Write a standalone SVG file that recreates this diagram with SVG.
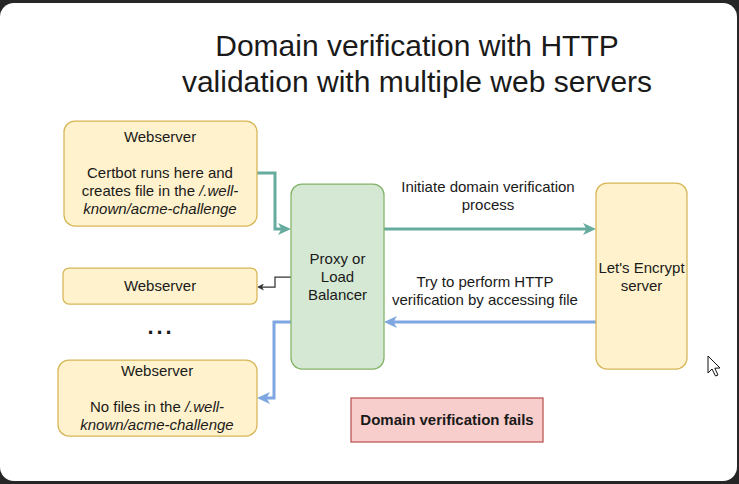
<svg xmlns="http://www.w3.org/2000/svg" width="739" height="484" viewBox="0 0 739 484">
<style>
text{font-family:"Liberation Sans",Arial,Helvetica,sans-serif;fill:#1a1a1a;}
.t{font-size:15px;text-anchor:middle;}
.i{font-style:italic;}
.title{font-size:30px;text-anchor:middle;}
.ws{fill:#fff2cc;stroke:#d6b656;stroke-width:1.25;}
.px{fill:#d5e8d4;stroke:#82b366;stroke-width:1.25;}
.fail{fill:#f8cecc;stroke:#b85450;stroke-width:1.25;}
.teal{fill:none;stroke:#67ab9f;stroke-width:3;}
.blue{fill:none;stroke:#7ea6e0;stroke-width:3;}
.thin{fill:none;stroke:#333333;stroke-width:1.25;}
</style>
<defs>
<marker id="aTeal" markerUnits="userSpaceOnUse" markerWidth="14" markerHeight="12" refX="7" refY="6" orient="auto"><path d="M0,0 L13,6 L0,12 L3.5,6 z" fill="#67ab9f"/></marker>
<marker id="aBlue" markerUnits="userSpaceOnUse" markerWidth="14" markerHeight="12" refX="7" refY="6" orient="auto"><path d="M0,0 L13,6 L0,12 L3.5,6 z" fill="#7ea6e0"/></marker>
<marker id="aThin" markerUnits="userSpaceOnUse" markerWidth="8" markerHeight="7" refX="3" refY="3.5" orient="auto"><path d="M0,0 L7,3.5 L0,7 L2,3.5 z" fill="#333333"/></marker>
</defs>
<rect x="0" y="0" width="739" height="484" fill="#262626"/>
<rect x="0" y="3" width="737" height="478" rx="14" fill="#ffffff"/>
<g id="title">
<text class="title" x="417" y="56">Domain verification with HTTP</text>
<text class="title" x="417" y="92">validation with multiple web servers</text>
</g>
<g id="connectors">
<path class="teal" d="M257,173 H275 V229 H285" marker-end="url(#aTeal)"/>
<path class="teal" d="M384,229 H590" marker-end="url(#aTeal)"/>
<path class="blue" d="M596,322 H390" marker-end="url(#aBlue)"/>
<path class="blue" d="M291,322 H274 V398 H263" marker-end="url(#aBlue)"/>
<path class="thin" d="M291,277 H275 V287 H261" marker-end="url(#aThin)"/>
<text class="t" x="488" y="192">Initiate domain verification</text>
<text class="t" x="488" y="210">process</text>
<text class="t" x="485" y="287">Try to perform HTTP</text>
<text class="t" x="485" y="305">verification by accessing file</text>
</g>
<g id="webserver1">
<rect class="ws" x="64" y="121" width="193" height="105" rx="11"/>
<text class="t" x="160" y="142">Webserver</text>
<text class="t" x="160" y="178">Certbot runs here and</text>
<text class="t" x="160" y="196">creates file in the <tspan class="i">/.well-</tspan></text>
<text class="t i" x="160" y="214">known/acme-challenge</text>
</g>
<g id="webserver2">
<rect class="ws" x="63" y="268" width="194" height="36" rx="6"/>
<text class="t" x="160" y="291">Webserver</text>
</g>
<g id="ellipsis">
<text x="147.5" y="333.5" style="font-size:22px;font-weight:bold;letter-spacing:2.9px;">...</text>
</g>
<g id="webserver3">
<rect class="ws" x="58" y="360" width="199" height="76" rx="11"/>
<text class="t" x="157" y="376">Webserver</text>
<text class="t" x="157" y="412">No files in the <tspan class="i">/.well-</tspan></text>
<text class="t i" x="157" y="430">known/acme-challenge</text>
</g>
<g id="proxy">
<rect class="px" x="291" y="184" width="93" height="185" rx="11"/>
<text class="t" x="337.5" y="264">Proxy or</text>
<text class="t" x="337.5" y="282">Load</text>
<text class="t" x="337.5" y="300">Balancer</text>
</g>
<g id="letsencrypt">
<rect class="ws" x="596" y="183" width="91" height="186" rx="11"/>
<text class="t" x="641.5" y="273">Let's Encrypt</text>
<text class="t" x="641.5" y="291">server</text>
</g>
<g id="fail">
<rect class="fail" x="351" y="398" width="192" height="44"/>
<text class="t" x="447" y="425" style="font-weight:bold;">Domain verification fails</text>
</g>
<g id="cursor">
<path d="M708,356 V373 L712,369 L715.5,376 L718,375 L714.8,368.2 L720,368 Z" fill="#ffffff" stroke="#111111" stroke-width="1"/>
</g>
</svg>
